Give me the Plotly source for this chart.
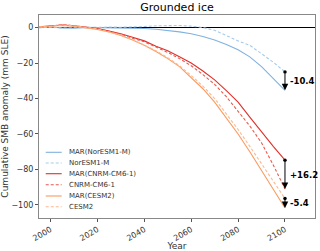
import plotly.graph_objects as go

years = [1995, 2000, 2005, 2010, 2015, 2020, 2025, 2030, 2035, 2040, 2045,
         2050, 2055, 2060, 2065, 2070, 2075, 2080, 2085, 2090, 2095, 2100]

mar_noresm = [0.0, 0.3, -0.2, -0.3, 0.1, 0.0, 0.2, 0.0, -0.3, -0.5, -0.9,
              -1.5, -2.4, -3.5, -5.0, -7.0, -9.5, -12.5, -16.5, -22.0, -28.5, -35.4]
gcm_noresm = [0.0, 0.2, -0.3, -0.1, 0.2, 0.1, 0.3, 0.2, 0.3, 0.6, 1.0,
              1.3, 1.2, 0.8, 0.0, -1.5, -4.5, -7.5, -10.0, -14.5, -19.5, -25.0]
mar_cnrm = [0.5, 1.0, 1.5, 1.0, 0.2, -0.5, -2.0, -3.5, -5.5, -7.5, -10.5,
            -13.0, -16.5, -20.0, -24.5, -29.5, -35.5, -42.0, -50.5, -59.0, -67.0, -74.8]
gcm_cnrm = [0.3, 0.8, 1.8, 1.2, 0.3, -0.5, -2.2, -3.8, -6.0, -8.0, -11.0,
            -14.0, -17.5, -21.5, -26.5, -32.0, -39.0, -47.0, -55.5, -65.0, -77.5, -91.0]
mar_cesm = [0.5, 0.8, 1.2, 0.8, 0.0, -1.0, -2.5, -4.5, -7.0, -10.0, -13.5,
            -17.5, -22.0, -28.0, -34.5, -42.0, -51.0, -60.0, -70.0, -80.5, -91.0, -101.8]
gcm_cesm = [0.3, 0.6, 1.5, 1.0, 0.2, -0.8, -2.3, -4.2, -6.8, -9.8, -13.0,
            -17.0, -21.5, -27.0, -33.0, -40.0, -48.5, -57.5, -67.0, -77.0, -87.0, -96.4]

names = ["MAR(NorESM1-M)", "NorESM1-M", "MAR(CNRM-CM6-1)", "CNRM-CM6-1",
         "MAR(CESM2)", "CESM2"]
series = [mar_noresm, gcm_noresm, mar_cnrm, gcm_cnrm, mar_cesm, gcm_cesm]
colors = ["#7fb2e0", "#a6cbec", "#e0302a", "#ea5a4c", "#fc9a5e", "#fdb990"]
dashes = ["solid", "3px,2px", "solid", "3px,2px", "solid", "3px,2px"]

diff_labels = ["-10.4", "+16.2", "-5.4"]

fig = go.Figure()
for name, vals, col, dash in zip(names, series, colors, dashes):
    fig.add_trace(go.Scatter(x=years, y=vals, mode="lines", name=name, showlegend=False,
                             line=dict(color=col, width=1.1, dash=dash)))

# compact legend drawn in paper coordinates (layout only)
leg_y = [0.3236, 0.2709, 0.2182, 0.164, 0.1084, 0.0557]
for name, col, dash, ly in zip(names, colors, dashes, leg_y):
    fig.add_shape(type="line", xref="paper", yref="paper", x0=0.0243, x1=0.0822,
                  y0=ly, y1=ly, line=dict(color=col, width=1.1, dash=dash))
    fig.add_annotation(xref="paper", yref="paper", x=0.1, y=ly, text=name,
                       showarrow=False, xanchor="left", yanchor="middle",
                       font=dict(size=7, color="#333"))

# difference arrows at final year
pairs = [(gcm_noresm, mar_noresm), (mar_cnrm, gcm_cnrm), (gcm_cesm, mar_cesm)]
xe = years[-1]
for (top, bot), lab in zip(pairs, diff_labels):
    y0, y1 = top[-1], bot[-1]
    fig.add_trace(go.Scatter(x=[xe], y=[y0], mode="markers", showlegend=False,
                             marker=dict(color="black", size=3.5)))
    fig.add_annotation(x=xe, y=y1, ax=xe, ay=y0, axref="x", ayref="y",
                       xref="x", yref="y", text="", showarrow=True,
                       arrowhead=2, arrowsize=1.3, arrowwidth=1, arrowcolor="black")
    fig.add_annotation(x=xe + 1.2, y=(y0 + y1) / 2, xref="x", yref="y",
                       text="<b>" + lab + "</b>", showarrow=False, xanchor="left",
                       font=dict(size=8.5, color="black", family="DejaVu Sans"))

fig.update_layout(
    width=320, height=251,
    margin=dict(l=39, r=5, t=15, b=33),
    plot_bgcolor="white", paper_bgcolor="white",
    font=dict(family="DejaVu Sans", size=8, color="#333"),
    title=dict(text="Grounded ice", x=0.553, xanchor="center", y=0.972, yanchor="middle",
               font=dict(size=11, color="black")),
    showlegend=False,
)
fig.update_xaxes(range=[1995.1, 2112.8], tickvals=[2000, 2020, 2040, 2060, 2080, 2100],
                 tickangle=-30, ticks="outside", ticklen=3, tickcolor="#555",
                 showline=True, linecolor="#888", mirror=True, showgrid=False,
                 zeroline=False, automargin=False,
                 title=dict(text="Year", font=dict(size=9), standoff=2),
                 tickfont=dict(size=8))
fig.update_yaxes(range=[-107.4, 7.1], tickvals=[0, -20, -40, -60, -80, -100],
                 ticktext=["0", "\u221220", "\u221240", "\u221260", "\u221280", "\u2212100"],
                 ticks="outside", ticklen=3, tickcolor="#555",
                 showline=True, linecolor="#888", mirror=True, showgrid=False,
                 zeroline=True, zerolinecolor="black", zerolinewidth=1, automargin=False,
                 title=dict(text="Cumulative SMB anomaly (mm SLE)", font=dict(size=9), standoff=3),
                 tickfont=dict(size=8))

fig.write_html("out.html", config={"displayModeBar": False},
               post_script="document.body.style.margin='0';")
